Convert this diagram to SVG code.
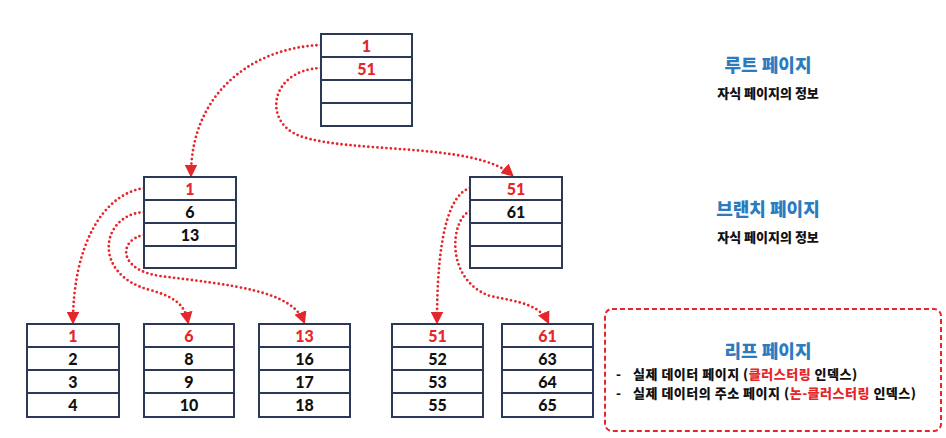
<svg xmlns="http://www.w3.org/2000/svg" width="946" height="438" viewBox="0 0 946 438">
<defs>
<marker id="arr" viewBox="0 0 10 10" refX="8" refY="5" markerWidth="4.5" markerHeight="4.5" orient="auto" markerUnits="strokeWidth">
<path d="M0,0 L10,5 L0,10 z" fill="#e5262a"/>
</marker>
<style>
.box{fill:#fff;stroke:#2b3858;stroke-width:2}
.ln{stroke:#2b3858;stroke-width:2}
.n{font-family:"Lato","Noto Sans",sans-serif;font-weight:900;font-size:16px;text-anchor:middle;fill:#111}
.r{fill:#e5262a}
.c{fill:none;stroke:#e5262a;stroke-width:2.8;stroke-linecap:round;stroke-dasharray:0 4.5;marker-end:url(#arr)}
.kt{font-family:"Noto Sans CJK KR",sans-serif;font-weight:900;font-size:18px;fill:#2b7bc0;text-anchor:middle}
.ks{font-family:"Noto Sans CJK KR",sans-serif;font-weight:900;font-size:13px;fill:#111;text-anchor:middle}
.kl{font-family:"Noto Sans CJK KR",sans-serif;font-weight:900;font-size:13px;fill:#111;letter-spacing:0.5px}
</style>
</defs>
<rect width="946" height="438" fill="#fff"/>

<g id="connectors">
<path class="c" d="M321,45 C250,48 191,95 191,175"/>
<path class="c" d="M321,68 C270,70 262,122 300,136 C350,154 475,142 512,175"/>
<path class="c" d="M144,188 C100,195 73,250 73,322"/>
<path class="c" d="M144,212 C100,215 92,275 150,290 C175,297 185,305 188,322"/>
<path class="c" d="M144,235 C118,240 118,270 160,276 C230,285 292,290 304,322"/>
<path class="c" d="M470,188 C448,195 437,240 437,322"/>
<path class="c" d="M470,211 C450,220 445,280 490,296 C520,302 540,305 548,322"/>
</g>

<g id="root">
<rect class="box" x="321" y="34" width="91" height="92"/>
<line class="ln" x1="321" y1="57" x2="412" y2="57"/>
<line class="ln" x1="321" y1="80" x2="412" y2="80"/>
<line class="ln" x1="321" y1="103" x2="412" y2="103"/>
<text class="n r" x="366.5" y="51.5">1</text>
<text class="n r" x="366.5" y="74.5">51</text>
</g>

<g id="branch1">
<rect class="box" x="144" y="177" width="92" height="91"/>
<line class="ln" x1="144" y1="200" x2="236" y2="200"/>
<line class="ln" x1="144" y1="223" x2="236" y2="223"/>
<line class="ln" x1="144" y1="246" x2="236" y2="246"/>
<text class="n r" x="190" y="194.5">1</text>
<text class="n" x="190" y="217.5">6</text>
<text class="n" x="190" y="240.5">13</text>
</g>

<g id="branch2">
<rect class="box" x="470" y="177" width="92" height="91"/>
<line class="ln" x1="470" y1="200" x2="562" y2="200"/>
<line class="ln" x1="470" y1="223" x2="562" y2="223"/>
<line class="ln" x1="470" y1="246" x2="562" y2="246"/>
<text class="n r" x="516" y="194.5">51</text>
<text class="n" x="516" y="217.5">61</text>
</g>

<g id="leaf1">
<rect class="box" x="27" y="324" width="92" height="93"/>
<line class="ln" x1="27" y1="347" x2="119" y2="347"/>
<line class="ln" x1="27" y1="370" x2="119" y2="370"/>
<line class="ln" x1="27" y1="393" x2="119" y2="393"/>
<text class="n r" x="73" y="341.5">1</text>
<text class="n" x="73" y="364.5">2</text>
<text class="n" x="73" y="387.5">3</text>
<text class="n" x="73" y="410.5">4</text>
</g>

<g id="leaf2">
<rect class="box" x="144" y="324" width="90" height="93"/>
<line class="ln" x1="144" y1="347" x2="234" y2="347"/>
<line class="ln" x1="144" y1="370" x2="234" y2="370"/>
<line class="ln" x1="144" y1="393" x2="234" y2="393"/>
<text class="n r" x="189" y="341.5">6</text>
<text class="n" x="189" y="364.5">8</text>
<text class="n" x="189" y="387.5">9</text>
<text class="n" x="189" y="410.5">10</text>
</g>

<g id="leaf3">
<rect class="box" x="259" y="324" width="91" height="93"/>
<line class="ln" x1="259" y1="347" x2="350" y2="347"/>
<line class="ln" x1="259" y1="370" x2="350" y2="370"/>
<line class="ln" x1="259" y1="393" x2="350" y2="393"/>
<text class="n r" x="304.5" y="341.5">13</text>
<text class="n" x="304.5" y="364.5">16</text>
<text class="n" x="304.5" y="387.5">17</text>
<text class="n" x="304.5" y="410.5">18</text>
</g>

<g id="leaf4">
<rect class="box" x="392" y="324" width="91" height="93"/>
<line class="ln" x1="392" y1="347" x2="483" y2="347"/>
<line class="ln" x1="392" y1="370" x2="483" y2="370"/>
<line class="ln" x1="392" y1="393" x2="483" y2="393"/>
<text class="n r" x="437.5" y="341.5">51</text>
<text class="n" x="437.5" y="364.5">52</text>
<text class="n" x="437.5" y="387.5">53</text>
<text class="n" x="437.5" y="410.5">55</text>
</g>

<g id="leaf5">
<rect class="box" x="502" y="324" width="91" height="93"/>
<line class="ln" x1="502" y1="347" x2="593" y2="347"/>
<line class="ln" x1="502" y1="370" x2="593" y2="370"/>
<line class="ln" x1="502" y1="393" x2="593" y2="393"/>
<text class="n r" x="547.5" y="341.5">61</text>
<text class="n" x="547.5" y="364.5">63</text>
<text class="n" x="547.5" y="387.5">64</text>
<text class="n" x="547.5" y="410.5">65</text>
</g>

<g id="root-label">
<text class="kt" x="768" y="72">루트 페이지</text>
<text class="ks" x="768" y="98">자식 페이지의 정보</text>
</g>

<g id="branch-label">
<text class="kt" x="768" y="216">브랜치 페이지</text>
<text class="ks" x="768" y="242">자식 페이지의 정보</text>
</g>

<g id="leaf-label">
<rect x="605" y="309" width="336" height="122" rx="7" fill="none" stroke="#e5262a" stroke-width="2" stroke-dasharray="5 3"/>
<text class="kt" x="768" y="358">리프 페이지</text>
<text class="kl" x="616" y="379">-</text>
<text class="kl" x="633" y="379">실제 데이터 페이지 (<tspan fill="#e5262a">클러스터링</tspan> 인덱스)</text>
<text class="kl" x="616" y="398">-</text>
<text class="kl" x="633" y="398">실제 데이터의 주소 페이지 (<tspan fill="#e5262a">논-클러스터링</tspan> 인덱스)</text>
</g>
</svg>
